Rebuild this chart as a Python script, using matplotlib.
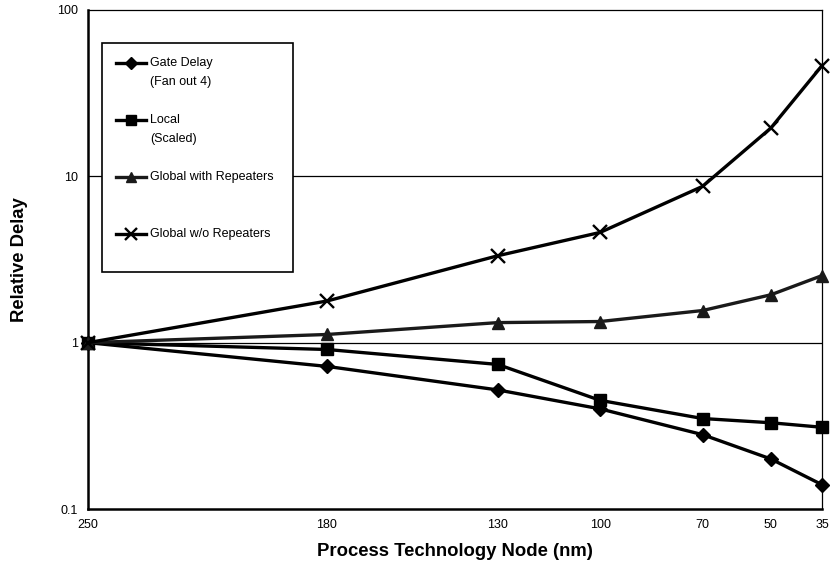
import matplotlib
matplotlib.use('Agg')
import matplotlib.pyplot as plt
from matplotlib.lines import Line2D
from matplotlib.patches import Rectangle

# ---- data ----
nodes = [250, 180, 130, 100, 70, 50, 35]
node_labels = ['250', '180', '130', '100', '70', '50', '35']
gate_delay = [1.0, 0.72, 0.52, 0.40, 0.28, 0.20, 0.14]
local_scaled = [1.0, 0.91, 0.74, 0.45, 0.35, 0.33, 0.31]
global_rep = [1.0, 1.12, 1.32, 1.34, 1.56, 1.94, 2.53]
global_norep = [1.0, 1.78, 3.33, 4.6, 8.7, 19.5, 46.3]
y_ticks = [0.1, 1, 10, 100]
y_tick_labels = ['0.1', '1', '10', '100']

series_labels = ['Gate Delay\n(Fan out 4)', 'Local\n(Scaled)',
                 'Global with Repeaters', 'Global w/o Repeaters']

plt.rcParams['font.family'] = ['Liberation Sans', 'DejaVu Sans']

W, H = 836, 577
fig = plt.figure(figsize=(W / 100, H / 100), dpi=100)
fig.patch.set_facecolor('white')

def fx(px):
    return px / W

def fy(py):
    return 1 - py / H

ax_l, ax_r, ax_t, ax_b = 88, 822, 10, 509
ax = fig.add_axes([fx(ax_l), fy(ax_b), fx(ax_r) - fx(ax_l), fy(ax_t) - fy(ax_b)])

ax.set_yscale('log')
ax.set_ylim(0.1, 100)
ax.set_xlim(250, 35)

styles = [
    dict(marker='D', markersize=7.5, color='black'),
    dict(marker='s', markersize=8, color='black'),
    dict(marker='^', markersize=8, color='#1a1a1a'),
    dict(marker='x', markersize=10, markeredgewidth=1.7, color='black'),
]
series = [gate_delay, local_scaled, global_rep, global_norep]

for vals, st, lab in zip(series, styles, series_labels):
    ax.plot(nodes, vals, linewidth=2.4, label=lab, zorder=3, clip_on=False, **st)

# gridlines
for yv in y_ticks[1:3]:
    ax.axhline(yv, color='black', linewidth=0.9, zorder=1)

ax.set_xticks(nodes)
ax.set_xticklabels(node_labels)
ax.set_yticks(y_ticks)
ax.set_yticklabels(y_tick_labels)
ax.yaxis.set_minor_locator(matplotlib.ticker.NullLocator())
ax.tick_params(axis='both', length=0, labelsize=9)
ax.tick_params(axis='x', pad=7)
ax.tick_params(axis='y', pad=7)

for side in ['left', 'bottom']:
    ax.spines[side].set_linewidth(1.8)
for side in ['top', 'right']:
    ax.spines[side].set_linewidth(0.9)

fig.text(fx(20), fy(260), 'Relative Delay', rotation=90, ha='center', va='center',
         fontsize=13.3, fontweight='bold')
fig.text(fx(455), fy(552), 'Process Technology Node (nm)', ha='center', va='center',
         fontsize=13.3, fontweight='bold')

# ---- legend (manual, fixed layout) ----
box = Rectangle((fx(102), fy(272)), fx(293) - fx(102), fy(43) - fy(272),
                transform=fig.transFigure, facecolor='white', edgecolor='black',
                linewidth=1.2, zorder=5)
fig.add_artist(box)

entry_y = [63, 120, 177, 234]
line_gap = 19
for ey, st, lab in zip(entry_y, styles, series_labels):
    fig.add_artist(Line2D([fx(116), fx(146)], [fy(ey), fy(ey)], transform=fig.transFigure,
                          color=st['color'], linewidth=2.4, zorder=6))
    mst = dict(st)
    mst['markersize'] = st['markersize'] * 0.85
    fig.add_artist(Line2D([fx(131)], [fy(ey)], transform=fig.transFigure,
                          linestyle='none', zorder=7, **mst))
    for i, part in enumerate(lab.split('\n')):
        fig.text(fx(150), fy(ey + i * line_gap), part, ha='left', va='center',
                 fontsize=9, zorder=7)

fig.savefig('out.png', dpi=100, facecolor='white')
